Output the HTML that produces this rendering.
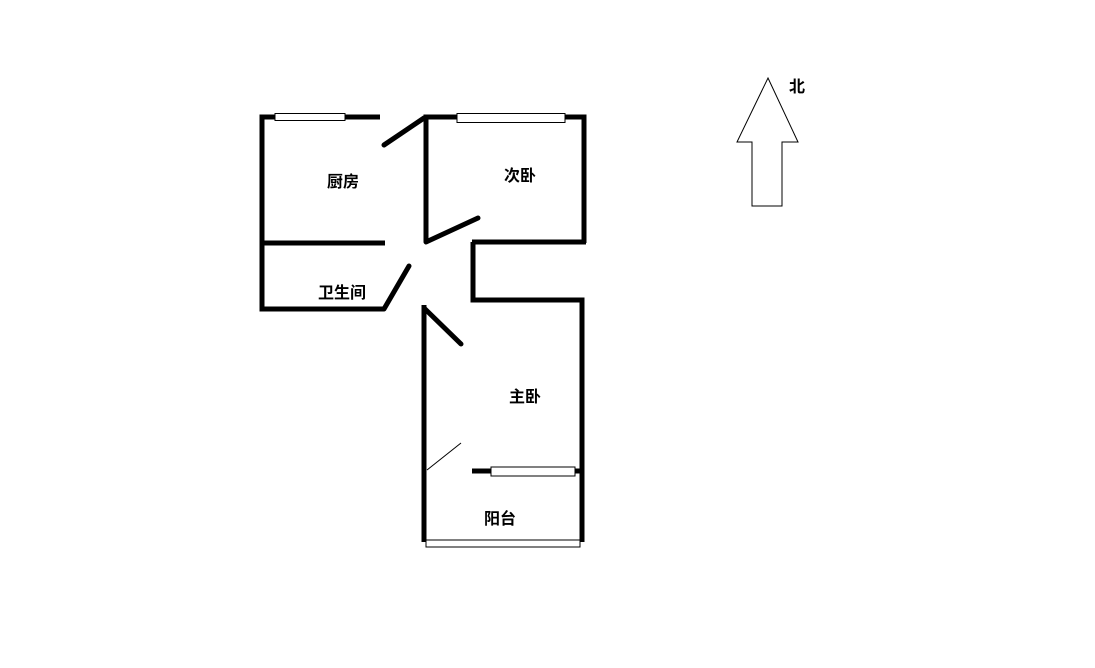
<!DOCTYPE html>
<html><head><meta charset="utf-8"><style>
html,body{margin:0;padding:0;background:#fff;}
svg{display:block;}
text{font-family:"Liberation Sans","Noto Sans CJK SC",sans-serif;font-size:16px;fill:#000;font-weight:bold;}
</style></head><body>
<svg width="1095" height="668" viewBox="0 0 1095 668" xmlns="http://www.w3.org/2000/svg">
<rect width="1095" height="668" fill="#fff"/>
<g stroke="#000" stroke-width="5" fill="none" stroke-linecap="butt">
<!-- kitchen/bath -->
<polyline points="275,117 262,117 262,309 384,309"/>
<line x1="345" y1="117" x2="380" y2="117"/>
<line x1="262" y1="243" x2="385" y2="243"/>
<line x1="384" y1="309" x2="409" y2="266" stroke-linecap="round"/>
<line x1="384" y1="145" x2="424" y2="118" stroke-linecap="round"/>
<!-- second bedroom -->
<polyline points="457,117 426,117 426,242"/>
<polyline points="565,117 584,117 584,243"/>
<line x1="472" y1="242" x2="586" y2="242"/>
<line x1="426" y1="242" x2="478" y2="218" stroke-linecap="round"/>
<!-- notch -->
<polyline points="473,242 473,300 582,300 582,542"/>
<!-- master -->
<line x1="424" y1="305" x2="424" y2="542"/>
<line x1="424" y1="308" x2="461" y2="344" stroke-linecap="round"/>
<line x1="472" y1="471" x2="491" y2="471"/>
<line x1="575" y1="471" x2="582" y2="471"/>
</g>
<g stroke="#000" stroke-width="1" fill="#fff">
<rect x="275" y="113.5" width="70" height="7"/>
<rect x="457" y="113.5" width="108" height="9"/>
<rect x="491" y="467" width="84" height="9"/>
<rect x="426" y="540" width="154" height="7"/>
</g>
<line x1="427" y1="470" x2="461" y2="443" stroke="#000" stroke-width="1"/>
<polygon points="768,78 798,142 782,142 782,206 752,206 752,142 737,142" fill="#fff" stroke="#000" stroke-width="1"/>
<text x="327" y="187">厨房</text>
<text x="504" y="181">次卧</text>
<text x="318" y="298">卫生间</text>
<text x="509" y="402">主卧</text>
<text x="484" y="524">阳台</text>
<text x="789" y="92">北</text>
</svg>
</body></html>
